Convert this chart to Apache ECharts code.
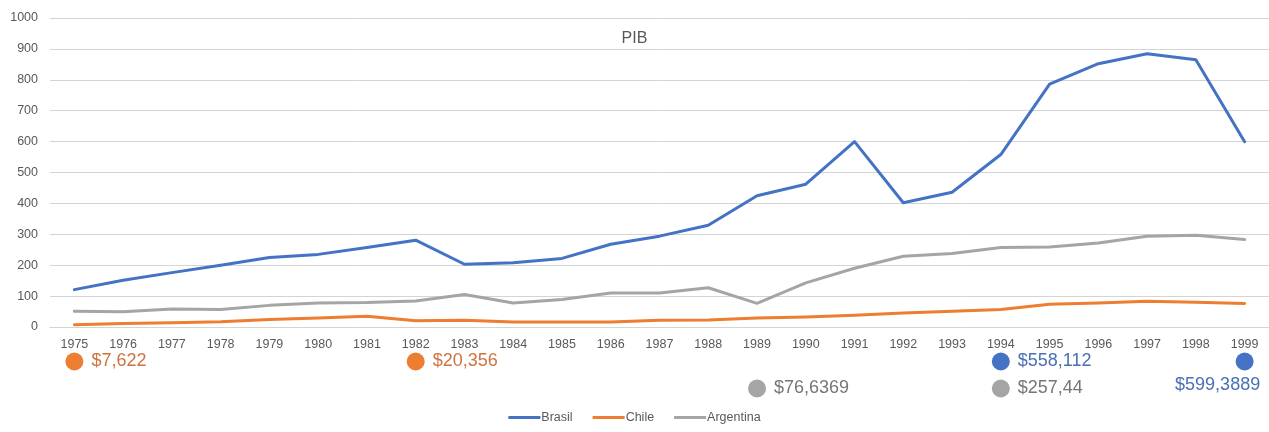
<!DOCTYPE html>
<html>
<head>
<meta charset="utf-8">
<title>PIB</title>
<script src="https://cdn.jsdelivr.net/npm/echarts@6.0.0/dist/echarts.min.js"></script>
<style>
html,body{margin:0;padding:0;background:#fff;}
#pib_chart{width:1269px;height:432px;}
</style>
</head>
<body>
<div id="pib_chart"></div>
<script>
// anos (eixo x)
var anos = ['1975','1976','1977','1978','1979','1980','1981','1982','1983','1984','1985','1986','1987',
	'1988','1989','1990','1991','1992','1993','1994','1995','1996','1997','1998','1999'];
// PIB por país
var brasil = [121,151,176,200,225,235,257,281,203,208,222,268,294,329,425,462,600,402,436,558.112,786,852,884,865,599.3889];
var chile = [7.622,11,14,17,24,29,35,20.356,22,16,16,16,22,23,29,32,38,45,51,57,74,78,83,80,76];
var argentina = [51,49,58,57,70,78,79,84,105,78,89,110,110,127,76.6369,143,190,229,238,257.44,259,272,294,297,283];
// valores marcados abaixo do eixo
var notaAnos = ['1975','1982','1994','1999','1989','1994'];
var notaLinha = [0,0,0,0,1,1];//0 = primeira linha, 1 = segunda
var notaSerie = ['Chile','Chile','Brasil','Brasil','Argentina','Argentina'];
var notaTexto = ['$7,622','$20,356','$558,112','$599,3889','$76,6369','$257,44'];
var yTicks = [0,100,200,300,400,500,600,700,800,900,1000];

var cores = {Brasil:'#4472C4', Chile:'#ED7D31', Argentina:'#A5A5A5'};
var coresTexto = {Brasil:'#4A6FB5', Chile:'#CF7440', Argentina:'#767676'};
var fonte = '"Liberation Sans", Arial, sans-serif';

// monta os pontos das notas de um país
function getNotas(pais){
	var arr = [];
	for (var i = 0; i < notaAnos.length; i++) {
		if (notaSerie[i] != pais) continue;
		var item = {value:[notaAnos[i], notaLinha[i]], texto:notaTexto[i]};
		// o ultimo valor do Brasil fica embaixo da bolinha
		if (pais == 'Brasil' && notaAnos[i] == '1999') {
			item.label = {position:'bottom', distance:6, offset:[-27,0]};
		}
		arr.push(item);
	}
	return arr;
}

function serieLinha(nome, dados){
	return {
		name:nome,
		type:'line',
		data:dados,
		showSymbol:false,
		symbol:'none',
		smooth:false,
		lineStyle:{width:3, color:cores[nome], join:'round', cap:'round'},
		itemStyle:{color:cores[nome]},
		z:3
	};
}

function serieNota(nome){
	return {
		name:nome+' nota',
		type:'scatter',
		xAxisIndex:1,
		yAxisIndex:1,
		symbolSize:18,
		itemStyle:{color:cores[nome], opacity:1},
		label:{
			show:true,
			position:'right',
			distance:8,
			color:coresTexto[nome],
			fontSize:18,
			fontFamily:fonte,
			formatter:function(p){ return p.data.texto; }
		},
		emphasis:{disabled:true},
		data:getNotas(nome)
	};
}

var chart = echarts.init(document.getElementById('pib_chart'));
var option = {
	animation:false,
	backgroundColor:'#ffffff',
	title:{
		text:'PIB',
		left:'center',
		top:26,
		textStyle:{fontSize:16, fontWeight:'normal', color:'#595959', fontFamily:fonte}
	},
	legend:{
		data:['Brasil','Chile','Argentina'],
		bottom:3,
		left:'center',
		icon:'rect',
		itemWidth:32,
		itemHeight:3,
		itemGap:20,
		textStyle:{fontSize:12.5, color:'#595959', fontFamily:fonte, padding:[0,0,0,-4]}
	},
	grid:[
		{left:50, right:-5, top:18, bottom:105},
		{left:50, right:-5, top:348, height:54}
	],
	xAxis:[
		{
			type:'category',
			gridIndex:0,
			data:anos,
			boundaryGap:true,
			axisLine:{show:true, lineStyle:{color:'#D4D4D4', width:1}},
			axisTick:{show:false},
			axisLabel:{interval:0, margin:11, fontSize:12.5, color:'#595959', fontFamily:fonte}
		},
		{
			type:'category',
			gridIndex:1,
			data:anos,
			boundaryGap:true,
			show:false
		}
	],
	yAxis:[
		{
			type:'value',
			gridIndex:0,
			min:yTicks[0],
			max:yTicks[yTicks.length-1],
			interval:100,
			axisLine:{show:false},
			axisTick:{show:false},
			splitLine:{lineStyle:{color:'#D4D4D4', width:1}},
			axisLabel:{
				margin:12, fontSize:12.5, color:'#595959', fontFamily:fonte,
				formatter:function(v){ return String(v); }
			}
		},
		{
			type:'category',
			gridIndex:1,
			data:[0,1],
			inverse:true,
			show:false
		}
	],
	series:[
		serieLinha('Brasil', brasil),
		serieLinha('Chile', chile),
		serieLinha('Argentina', argentina),
		serieNota('Chile'),
		serieNota('Brasil'),
		serieNota('Argentina')
	]
};
chart.setOption(option);
</script>
</body>
</html>
